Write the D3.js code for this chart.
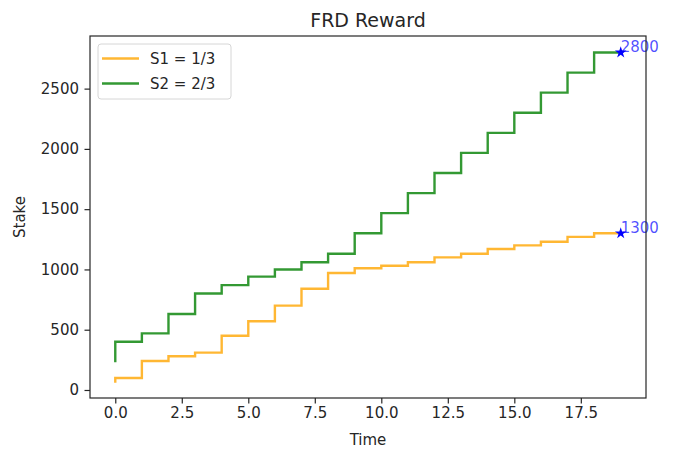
<!DOCTYPE html>
<html><head><meta charset="utf-8">
<script src="https://cdn.jsdelivr.net/npm/d3@7"></script>
<style>
body{margin:0;background:#fff;}
text{font-family:"DejaVu Sans",sans-serif;}
</style></head>
<body><svg id="c" width="678" height="453"></svg>
<script>
const time = d3.range(0, 20);
const s1Values = [70,100,240,280,310,450,570,700,840,970,1010,1030,1060,1100,1130,1170,1200,1230,1270,1300];
const s2Values = [240,400,470,630,800,870,940,1000,1060,1130,1300,1467,1633,1800,1967,2133,2300,2467,2633,2800];
const seriesNames = ["S1 = 1/3", "S2 = 2/3"];
const xTicks = [0,2.5,5,7.5,10,12.5,15,17.5];
const yTicks = [0,500,1000,1500,2000,2500];
const endLabels = ["1300","2800"];

const svg = d3.select("#c");
const L=90, R=646, T=36, B=398;
const x = d3.scaleLinear().domain([-0.95,19.95]).range([L,R]);
const y = d3.scaleLinear().domain([-66.5,2936.5]).range([B,T]);
const fs = 15;
const ink = "#262626";

const series = [
  {name: seriesNames[0], vals: s1Values, color: "orange"},
  {name: seriesNames[1], vals: s2Values, color: "green"}
];

const line = d3.line().x((d,i)=>x(time[i])).y(d=>y(d)).curve(d3.curveStepBefore);
const g = svg.append("g");
series.forEach(s=>{
  g.append("path").attr("d", line(s.vals)).attr("fill","none")
   .attr("stroke", s.color).attr("stroke-opacity",0.8).attr("stroke-width",2.4)
   .attr("stroke-linejoin","miter").attr("stroke-linecap","square");
});

// end markers and annotations
const star = d3.symbol().type(d3.symbolStar).size(42);
series.forEach((s,k)=>{
  const v = s.vals[s.vals.length-1];
  const xe = time[time.length-1];
  g.append("path").attr("d", star()).attr("transform",`translate(${x(xe)},${y(v)})`)
   .attr("fill","blue");
  g.append("text").attr("x", x(xe)).attr("y", y(v)).attr("fill","blue").attr("fill-opacity",0.7)
   .attr("font-size",fs).text(endLabels[k]);
});

// axes
const xAxis = d3.axisBottom(x).tickValues(xTicks).tickFormat(d3.format(".1f")).tickSize(5.5).tickPadding(4);
const yAxis = d3.axisLeft(y).tickValues(yTicks).tickFormat(d3.format("d")).tickSize(5.5).tickPadding(5.5);
const gx = svg.append("g").attr("transform",`translate(0,${B})`).call(xAxis);
const gy = svg.append("g").attr("transform",`translate(${L},0)`).call(yAxis);
[gx,gy].forEach(a=>{
  a.select(".domain").remove();
  a.selectAll("text").attr("font-size",fs).attr("font-family","DejaVu Sans").attr("fill",ink);
  a.selectAll("line").attr("stroke",ink).attr("stroke-width",1.2);
});
svg.append("rect").attr("x",L).attr("y",T).attr("width",R-L).attr("height",B-T)
  .attr("fill","none").attr("stroke",ink).attr("stroke-width",1.2);

// labels
svg.append("text").attr("x",(L+R)/2).attr("y",26.5).attr("text-anchor","middle")
  .attr("font-size",19).attr("fill",ink).text("FRD Reward");
svg.append("text").attr("x",(L+R)/2).attr("y",445).attr("text-anchor","middle")
  .attr("font-size",fs).attr("fill",ink).text("Time");
svg.append("text").attr("transform",`translate(25,${(T+B)/2}) rotate(-90)`).attr("text-anchor","middle")
  .attr("font-size",fs).attr("fill",ink).text("Stake");

// legend
const lg = svg.append("g");
lg.append("rect").attr("x",98).attr("y",44).attr("width",133).attr("height",55).attr("rx",3)
  .attr("fill","#fff").attr("fill-opacity",0.8).attr("stroke","#d6d6d6");
series.forEach((s,i)=>{
  const yy = 58.5 + i*25;
  lg.append("line").attr("x1",102).attr("x2",139).attr("y1",yy).attr("y2",yy)
    .attr("stroke",s.color).attr("stroke-opacity",0.8).attr("stroke-width",2.4);
  lg.append("text").attr("x",150).attr("y",yy).attr("dy","0.36em").attr("font-size",fs)
    .attr("fill",ink).text(s.name);
});
</script></body></html>
